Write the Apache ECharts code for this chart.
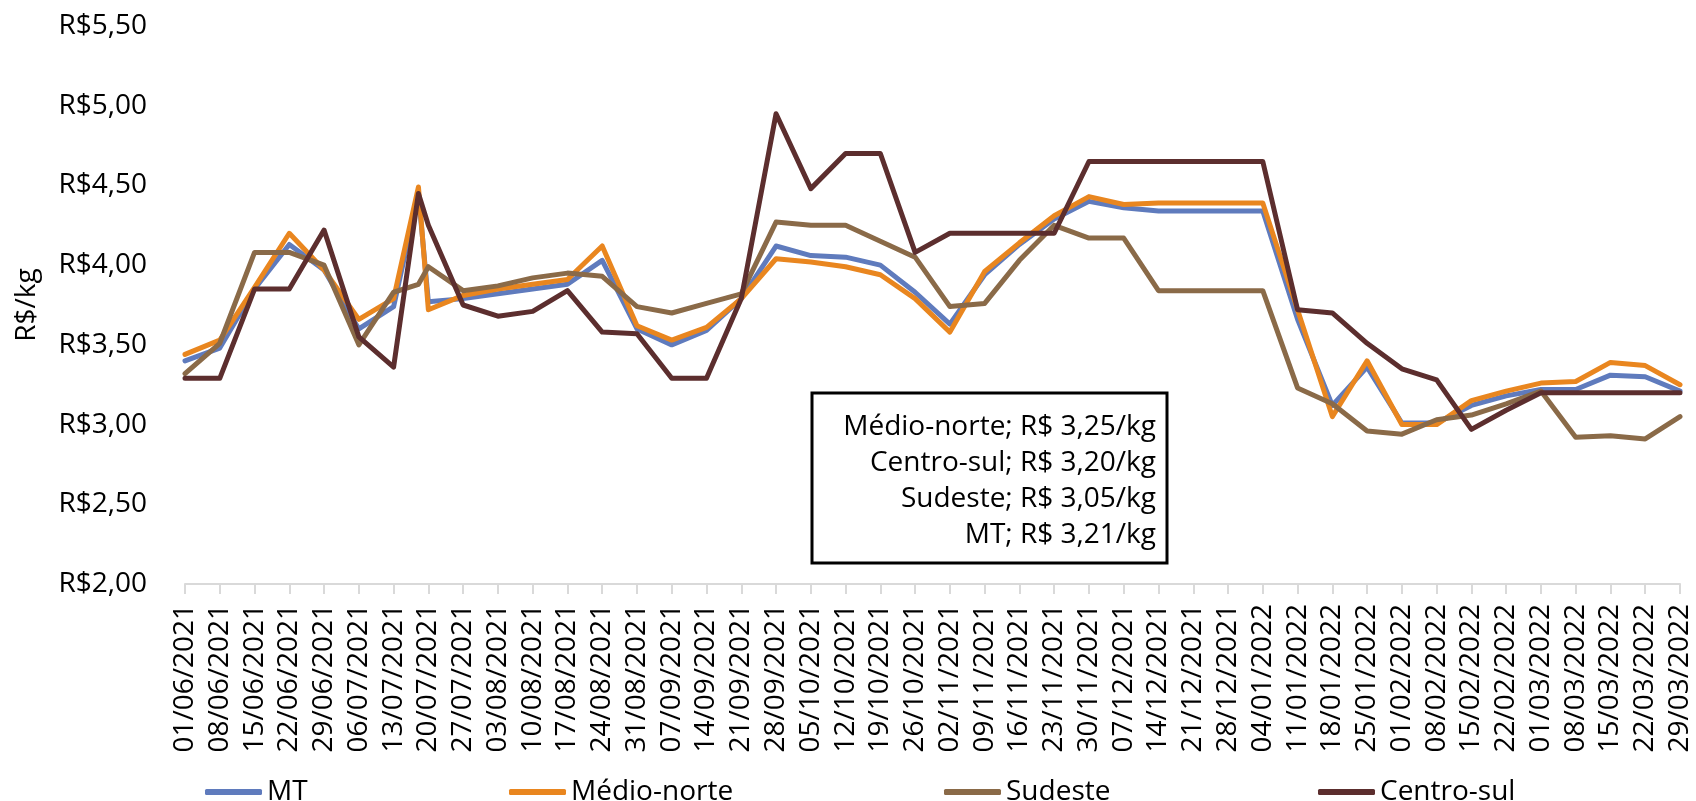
<!DOCTYPE html>
<html>
<head>
<meta charset="utf-8">
<script src="https://cdn.jsdelivr.net/npm/echarts@6/dist/echarts.min.js"></script>
<style>
  html, body { margin: 0; padding: 0; background: #fff; }
  #chart { width: 1696px; height: 801px; }
</style>
</head>
<body>
<div id="chart"></div>
<script>
// weekly tick labels on the x axis
const dateLabels = [
  '01/06/2021', '08/06/2021', '15/06/2021', '22/06/2021', '29/06/2021',
  '06/07/2021', '13/07/2021', '20/07/2021', '27/07/2021', '03/08/2021',
  '10/08/2021', '17/08/2021', '24/08/2021', '31/08/2021', '07/09/2021',
  '14/09/2021', '21/09/2021', '28/09/2021', '05/10/2021', '12/10/2021',
  '19/10/2021', '26/10/2021', '02/11/2021', '09/11/2021', '16/11/2021',
  '23/11/2021', '30/11/2021', '07/12/2021', '14/12/2021', '21/12/2021',
  '28/12/2021', '04/01/2022', '11/01/2022', '18/01/2022', '25/01/2022',
  '01/02/2022', '08/02/2022', '15/02/2022', '22/02/2022', '01/03/2022',
  '08/03/2022', '15/03/2022', '22/03/2022', '29/03/2022'
]

// dates of the price points (one extra reading in mid july)
const pointDates = [
  '01/06/2021', '08/06/2021', '15/06/2021', '22/06/2021', '29/06/2021',
  '06/07/2021', '13/07/2021', '18/07/2021', '20/07/2021', '27/07/2021', '03/08/2021',
  '10/08/2021', '17/08/2021', '24/08/2021', '31/08/2021', '07/09/2021',
  '14/09/2021', '21/09/2021', '28/09/2021', '05/10/2021', '12/10/2021',
  '19/10/2021', '26/10/2021', '02/11/2021', '09/11/2021', '16/11/2021',
  '23/11/2021', '30/11/2021', '07/12/2021', '14/12/2021', '21/12/2021',
  '28/12/2021', '04/01/2022', '11/01/2022', '18/01/2022', '25/01/2022',
  '01/02/2022', '08/02/2022', '15/02/2022', '22/02/2022', '01/03/2022',
  '08/03/2022', '15/03/2022', '22/03/2022', '29/03/2022'
]

const mt = [
  3.40, 3.48, 3.85, 4.13, 3.97, 3.60, 3.74, 4.45, 3.77, 3.79, 3.82,
  3.85, 3.88, 4.03, 3.60, 3.50, 3.59, 3.79, 4.12, 4.06, 4.05,
  4.00, 3.83, 3.63, 3.94, 4.13, 4.29, 4.40, 4.36, 4.34, 4.34,
  4.34, 4.34, 3.66, 3.12, 3.36, 3.01, 3.01, 3.12, 3.18, 3.22,
  3.22, 3.31, 3.30, 3.21
]
const medioNorte = [
  3.44, 3.53, 3.86, 4.20, 3.97, 3.66, 3.79, 4.49, 3.72, 3.81, 3.85,
  3.88, 3.91, 4.12, 3.62, 3.53, 3.61, 3.79, 4.04, 4.02, 3.99,
  3.94, 3.79, 3.58, 3.96, 4.14, 4.31, 4.43, 4.38, 4.39, 4.39,
  4.39, 4.39, 3.72, 3.05, 3.40, 3.00, 3.00, 3.15, 3.21, 3.26,
  3.27, 3.39, 3.37, 3.25
]
const sudeste = [
  3.32, 3.51, 4.08, 4.08, 4.00, 3.50, 3.83, 3.88, 3.99, 3.84, 3.87,
  3.92, 3.95, 3.93, 3.74, 3.70, 3.76, 3.82, 4.27, 4.25, 4.25,
  4.15, 4.05, 3.74, 3.76, 4.03, 4.25, 4.17, 4.17, 3.84, 3.84,
  3.84, 3.84, 3.23, 3.13, 2.96, 2.94, 3.03, 3.06, 3.13, 3.21,
  2.92, 2.93, 2.91, 3.05
]
const centroSul = [
  3.29, 3.29, 3.85, 3.85, 4.22, 3.55, 3.36, 4.45, 4.25, 3.75, 3.68,
  3.71, 3.84, 3.58, 3.57, 3.29, 3.29, 3.79, 4.95, 4.48, 4.70,
  4.70, 4.08, 4.20, 4.20, 4.20, 4.20, 4.65, 4.65, 4.65, 4.65,
  4.65, 4.65, 3.72, 3.70, 3.51, 3.35, 3.28, 2.97, 3.09, 3.20,
  3.20, 3.20, 3.20, 3.20
]

const yTickLabels = ['R$2,00', 'R$2,50', 'R$3,00', 'R$3,50', 'R$4,00', 'R$4,50', 'R$5,00', 'R$5,50']

const seriesNames = ['MT', 'Médio-norte', 'Sudeste', 'Centro-sul']
const seriesColors = ['#5f7bbd', '#e9861f', '#8a6a48', '#5c2e2e']

const notes = [
  'Médio-norte; R$ 3,25/kg',
  'Centro-sul; R$ 3,20/kg',
  'Sudeste; R$ 3,05/kg',
  'MT; R$ 3,21/kg'
]

function dayOf (s) {
  const p = s.split('/')
  const t = Date.UTC(+p[2], +p[1] - 1, +p[0])
  return Math.round((t - Date.UTC(2021, 5, 1)) / 86400000)
}

const days = pointDates.map(dayOf)
const zip = vals => vals.map((v, i) => [days[i], v])

const font = 'Open Sans'
let chart = echarts.init(document.getElementById('chart'))

const legendLefts = [200, 504, 939, 1313]
let legends = seriesNames.map((n, i) => ({
  data: [n],
  left: legendLefts[i],
  top: 773,
  itemWidth: 57,
  itemHeight: 6,
  icon: 'roundRect',
  itemGap: 0,
  textStyle: { fontFamily: font, fontSize: 28, color: '#000', padding: [0, 0, 0, 0] }
}))

let option = {
  animation: false,
  backgroundColor: '#fff',
  textStyle: { fontFamily: font },
  legend: legends,
  grid: { left: 185, right: 16, top: 26, bottom: 217, containLabel: false },
  xAxis: {
    type: 'value',
    min: 0,
    max: 301,
    interval: 7,
    splitLine: { show: false },
    axisLine: { show: true, lineStyle: { color: '#d9d9d9', width: 2 } },
    axisTick: { show: true, length: 10, lineStyle: { color: '#d9d9d9', width: 2 } },
    axisLabel: {
      rotate: 90,
      margin: 20,
      fontFamily: font,
      fontSize: 28,
      color: '#000',
      showMinLabel: true,
      showMaxLabel: true,
      formatter: v => dateLabels[Math.round(v / 7)]
    }
  },
  yAxis: {
    type: 'value',
    min: 2,
    max: 5.5,
    interval: 0.5,
    name: 'R$/kg',
    nameLocation: 'middle',
    nameGap: 144,
    nameTextStyle: { fontFamily: font, fontSize: 28, color: '#000' },
    splitLine: { show: false },
    axisLine: { show: false },
    axisTick: { show: false },
    axisLabel: {
      margin: 38,
      fontFamily: font,
      fontSize: 28,
      color: '#000',
      formatter: v => yTickLabels[Math.round((v - 2) / 0.5)]
    }
  },
  series: [mt, medioNorte, sudeste, centroSul].map((vals, i) => ({
    name: seriesNames[i],
    type: 'line',
    data: zip(vals),
    showSymbol: false,
    symbol: 'none',
    color: seriesColors[i],
    lineStyle: { width: 5, color: seriesColors[i], cap: 'round', join: 'round' }
  })),
  graphic: [
    {
      type: 'rect',
      shape: { x: 812, y: 393, width: 355, height: 170 },
      style: { fill: '#fff', stroke: '#000', lineWidth: 3 },
      z: 100
    }
  ].concat(notes.map((t, i) => ({
    type: 'text',
    z: 101,
    style: {
      x: 1156,
      y: 427 + i * 36,
      text: t,
      align: 'right',
      verticalAlign: 'middle',
      font: '28px "Open Sans"',
      fill: '#000'
    }
  })))
}

option && chart.setOption(option)
</script>
</body>
</html>
